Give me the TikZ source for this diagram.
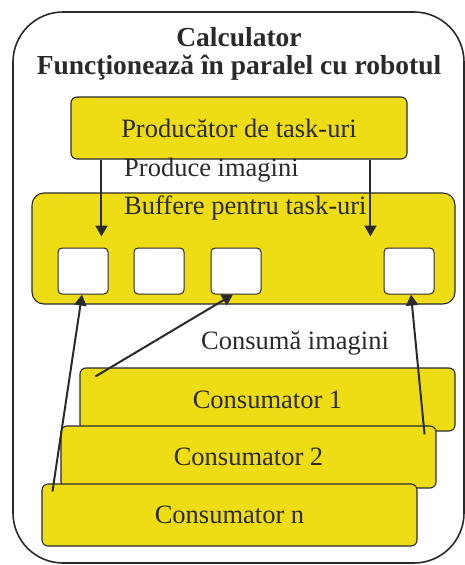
\documentclass[tikz,border=0pt]{standalone}
\usepackage{fontspec}
\setmainfont{Liberation Serif}
\usetikzlibrary{arrows.meta,calc}
\definecolor{boxyellow}{RGB}{238,220,20}
\definecolor{ink}{RGB}{42,42,42}
\begin{document}
\begin{tikzpicture}[x=1pt,y=-1pt,
  panel/.style={draw=ink,line width=1.1pt,fill=boxyellow,rounded corners=6pt,inner sep=0pt,
    text=ink,font=\fontsize{26.5}{30}\selectfont},
  slot/.style={draw=ink,line width=1pt,fill=white,rounded corners=4pt,
    minimum width=50pt,minimum height=46pt,inner sep=0pt},
  label/.style={text=ink,font=\fontsize{26.5}{30}\selectfont,inner sep=0pt},
  flow/.style={draw=ink,line width=2pt,-{Triangle[length=11pt,width=12pt]}}]
\useasboundingbox (0,0) rectangle (465,565);
% outer frame of the computer
\draw[ink,line width=1.6pt,rounded corners=50pt] (13,12) rectangle (464,563);
\node[label,font=\bfseries\fontsize{27.5}{28}\selectfont,align=center] (title) at (239,54)
  {Calculator\\Funcţionează în paralel cu robotul};

% producer
\node[panel,minimum width=336pt,minimum height=62pt,text depth=0pt] (prod) at (239,128) {Producător de task-uri};
\node[label,anchor=west] (prodlbl) at (124,170) {Produce imagini};

% buffer area with its slots
\node[panel,rounded corners=12pt,minimum width=423pt,minimum height=111pt] (buf) at (243.5,248.5) {};
\node[label,anchor=west] (buflbl) at (124,208) {Buffere pentru task-uri};
\node[slot] (s1) at (83,271) {};
\node[slot] (s2) at (159,271) {};
\node[slot] (s3) at (236,271) {};
\node[slot] (s4) at (409,271) {};

\node[label] (conslbl) at (295,343) {Consumă imagini};

% consumers, stacked back to front
\node[panel,minimum width=375pt,minimum height=63pt] (c1) at (267.5,399.5) {Consumator 1};
\node[panel,minimum width=375pt,minimum height=62pt] (c2) at (248.5,457) {Consumator 2};
\node[panel,minimum width=375pt,minimum height=62pt] (cn) at (229.5,515) {Consumator n};

% producer fills the buffers
\coordinate (pa) at ($(prod.south west)+(31,0)$);
\coordinate (pb) at ($(prod.south west)+(300,0)$);
\coordinate (ta) at ($(s1.north)+(19,-11)$);
\coordinate (tb) at ($(s4.north)+(-38,-11)$);
\draw[flow] (pa) -- (pa |- ta);
\draw[flow] (pb) -- (pb |- tb);

% consumers take from the buffers
\coordinate (cnstart) at ($(cn.north west)+(11,8)$);
\coordinate (c1start) at ($(c1.north west)+(16,9)$);
\coordinate (c2start) at ($(c2.north east)+(-12,9)$);
\draw[flow] (cnstart) -- ($(s1.south)+(-1,0)$);
\draw[flow] (c1start) -- ($(s3.south)+(-3,0)$);
\draw[flow] (c2start) -- ($(s4.south)+(2,0)$);
\end{tikzpicture}
\end{document}
